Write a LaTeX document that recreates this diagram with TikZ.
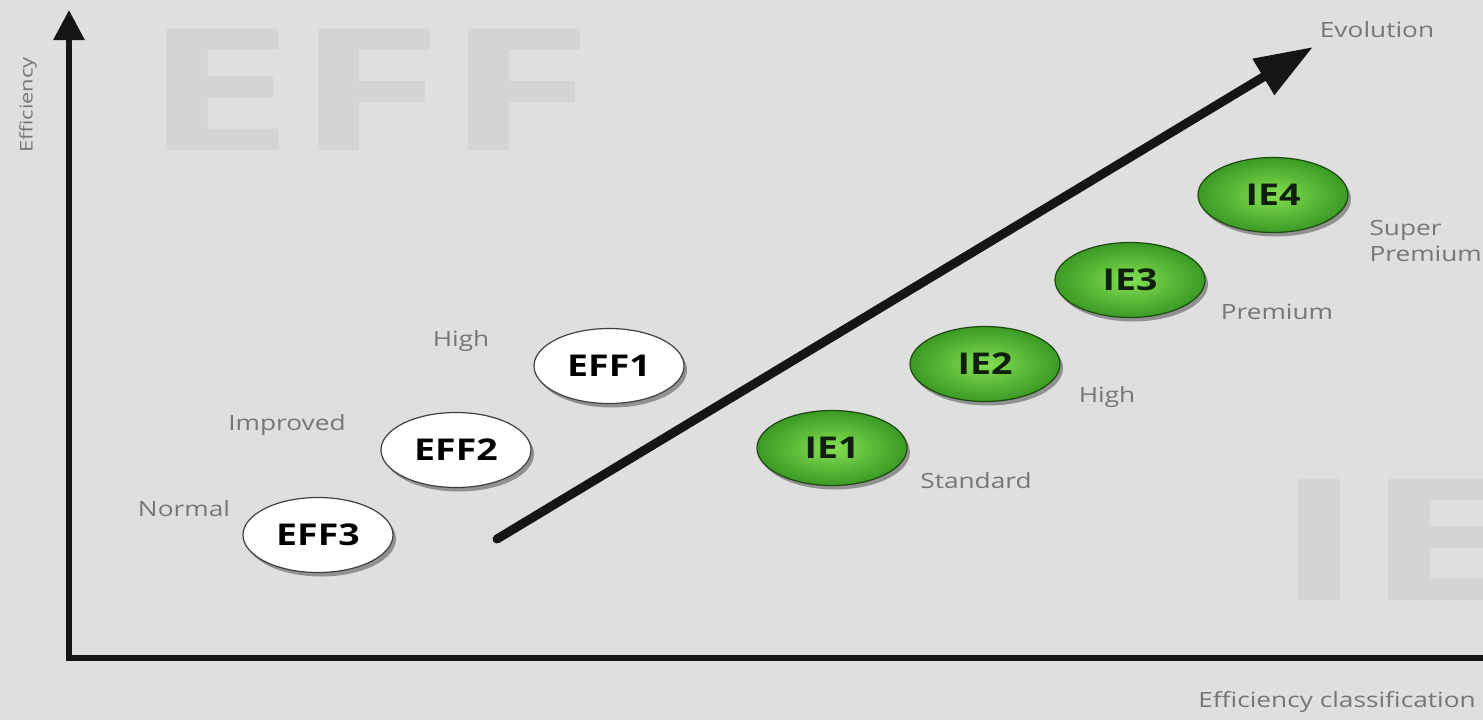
\documentclass[tikz,border=0pt]{standalone}
\usepackage{fontspec}
\setmainfont{Open Sans}[FakeStretch=1.25]
\usetikzlibrary{arrows.meta,shapes.geometric,shadows}
\definecolor{bg}{HTML}{DFDFDF}
\definecolor{wm}{HTML}{D4D4D4}
\definecolor{lbl}{HTML}{767676}
\definecolor{axis}{HTML}{151515}
\definecolor{ginner}{HTML}{84E052}
\definecolor{gouter}{HTML}{3A9A24}
\definecolor{gborder}{HTML}{1E4A12}
\definecolor{gtext}{HTML}{0F1F0C}
\tikzset{
  oval/.style={ellipse, minimum width=150pt, minimum height=75pt, line width=1.2pt,
    font=\bfseries\fontsize{30}{32}\selectfont,
    drop shadow={shadow xshift=3pt, shadow yshift=-4pt, opacity=0.35, fill=black}},
  effoval/.style={oval, draw=black!75, fill=white, text=black},
  ieoval/.style={oval, draw=gborder, inner color=ginner, outer color=gouter, text=gtext},
  lab/.style={font=\fontsize{21}{26}\selectfont, text=lbl},
  watermark/.style={font=\bfseries\fontsize{170}{170}\selectfont, text=wm},
  axisline/.style={line width=6pt, draw=axis},
}
\begin{document}
\begin{tikzpicture}[x=1pt,y=-1pt]
\useasboundingbox (0,0) rectangle (1483,720);
\fill[bg] (0,0) rectangle (1483,720);
% watermarks
\begin{scope}[shift={(368,90)}, xscale=1.28, transform shape]
  \node[watermark] (wmeff) at (0,0) {EFF};
\end{scope}
\begin{scope}[shift={(1270,540)}, xscale=1.28, transform shape]
  \node[watermark, anchor=west] (wmie) at (0,0) {IE};
\end{scope}
% axes
\coordinate (ybot) at (69,661);
\coordinate (ytop) at (69,10);
\coordinate (xstart) at (66,658);
\coordinate (xend) at (1490,658);
\draw[axisline, -{Triangle[length=30pt,width=30pt]}] (ybot) -- (ytop);
\draw[axisline] (xstart) -- (xend);
\node[lab, rotate=90, font=\fontsize{17.5}{20}\selectfont] (ylab) at (28,105) {Efficiency};
\node[lab] (xlab) at (1337,702) {Efficiency classification};
% evolution arrow
\coordinate (evs) at (497,539);
\coordinate (eve) at (1313,47);
\draw[line width=9pt, draw=axis, line cap=round, -{Triangle[length=58pt,width=40pt]}] (evs) -- (eve);
\node[lab] (evl) at (1377,30) {Evolution};
% EFF ovals
\node[effoval] (eff3) at (318,535) {EFF3};
\node[effoval] (eff2) at (456,450) {EFF2};
\node[effoval] (eff1) at (609,366) {EFF1};
\node[lab] (ln) at (184,509) {Normal};
\node[lab] (li) at (287,425) {Improved};
\node[lab] (lh) at (461,341) {High};
% IE ovals
\node[ieoval] (ie1) at (832,448) {IE1};
\node[ieoval] (ie2) at (985,364) {IE2};
\node[ieoval] (ie3) at (1130,280) {IE3};
\node[ieoval] (ie4) at (1273,195) {IE4};
\node[lab] (ls) at (976,481) {Standard};
\node[lab] (lh2) at (1107,397) {High};
\node[lab] (lp) at (1277,312) {Premium};
\node[lab, anchor=west, align=left] (lsp) at (1366,241) {Super\\Premium};
\end{tikzpicture}
\end{document}
